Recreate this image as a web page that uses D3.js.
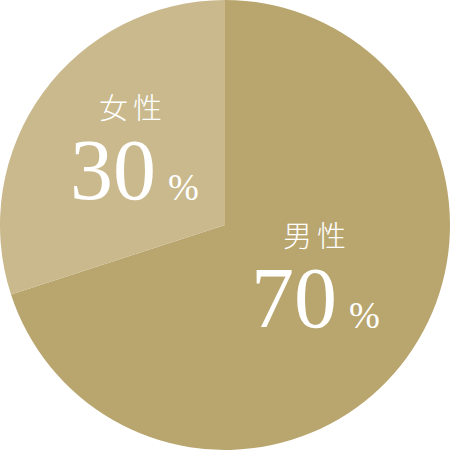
<html>
<head>
<meta charset="utf-8">
<style>
  body { margin: 0; background: #fff; }
  .label { fill: #fff; }
  .cat { font-family: "Noto Sans CJK JP", sans-serif; font-size: 29px; font-weight: 300; letter-spacing: 5px; text-anchor: middle; }
  .num { font-family: "Liberation Serif", serif; font-size: 86px; }
  .pct { font-family: "Liberation Serif", serif; font-size: 37px; }
</style>
<script src="https://cdnjs.cloudflare.com/ajax/libs/d3/7.8.5/d3.min.js"></script>
</head>
<body>
<svg width="450" height="450"></svg>
<script>
// data
var categories = ["男性", "女性"];
var values = [70, 30];
var colors = ["#b9a66f", "#c9b98d"];

var svg = d3.select("svg");
var r = 225;
var grp = svg.append("g").attr("transform", "translate(225,225)");

var pie = d3.pie().sort(null).value(function(d) { return d.v; });
var ds = categories.map(function(c, i) { return { name: c, v: values[i], color: colors[i] }; });
var arcs = pie(ds);
var arc = d3.arc().innerRadius(0).outerRadius(r);

grp.selectAll("path")
  .data(arcs)
  .enter().append("path")
    .attr("d", arc)
    .attr("fill", function(d) { return d.data.color; });

// label anchor (category text centre / baseline), offsets from pie centre
var labelPos = { "男性": [92, 22], "女性": [-92, -106] };

arcs.forEach(function(d) {
  var p = labelPos[d.data.name];
  var lg = grp.append("g").attr("class", "label")
    .attr("transform", "translate(" + p[0] + "," + p[1] + ")");
  lg.append("text").attr("class", "cat label").attr("y", 0).text(d.data.name);
  var t = lg.append("text").attr("class", "label").attr("x", d.data.v === 70 ? -66 : -63).attr("y", 80);
  t.append("tspan").attr("class", "num").text(d.data.v);
  t.append("tspan").attr("class", "pct").attr("dx", 12).attr("dy", 1).text("%");
});
</script>
</body>
</html>
